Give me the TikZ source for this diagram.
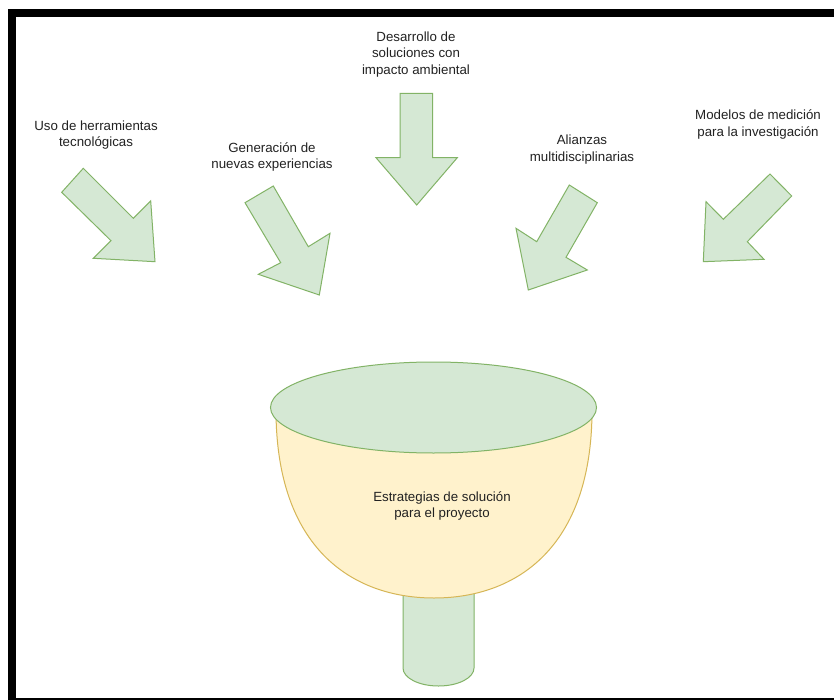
\documentclass[tikz,border=0pt]{standalone}
\usepackage{fontspec}
\setmainfont{Liberation Sans}
\definecolor{gfill}{HTML}{D5E8D4}
\definecolor{gline}{HTML}{82B366}
\definecolor{yfill}{HTML}{FFF2CC}
\definecolor{yline}{HTML}{D6B656}
\definecolor{txt}{HTML}{222222}
\begin{document}
\begin{tikzpicture}[x=1pt,y=-1pt,
  arrowshape/.style={fill=gfill,draw=gline,line width=1pt,line join=miter},
  greenshape/.style={fill=gfill,draw=gline,line width=1pt},
  yellowshape/.style={fill=yfill,draw=yline,line width=1pt},
  lbl/.style={font=\fontsize{13.3}{16.5}\selectfont, text=txt, align=center, inner sep=0pt}]
\useasboundingbox (0,0) rectangle (834,700);
\clip (0,0) rectangle (834,700);
\fill[white] (0,0) rectangle (834,700);
\draw[line width=8pt] (12,13) rectangle (842,701.5);
% arrows
\draw[arrowshape] (83.3,168.3) -- (61.7,192.3) -- (111,240.7) -- (93.3,258.3) -- (155,261.7) -- (150.7,201) -- (133.3,218.3) -- cycle;
\draw[arrowshape] (273.3,186) -- (245,202.7) -- (280.7,262.7) -- (258.3,274.3) -- (319.3,295) -- (330,233.3) -- (308.3,246.7) -- cycle;
\draw[arrowshape] (400,93.3) -- (432.7,93.3) -- (432.7,157.7) -- (457.3,157.7) -- (416.7,205) -- (376,157.7) -- (400,157.7) -- cycle;
\draw[arrowshape] (569.3,185) -- (597.3,202.7) -- (566,257.3) -- (587.3,270) -- (528.3,290) -- (516,228.3) -- (536.7,241.7) -- cycle;
\draw[arrowshape] (770,174) -- (791.7,196) -- (747.3,241.7) -- (764,259.3) -- (703.3,261.7) -- (706,201.7) -- (723.3,219.3) -- cycle;
% funnel
\draw[greenshape] (403,560) -- (403,668) arc[start angle=180, end angle=0, x radius=35.5, y radius=18] -- (474,560);
\draw[yellowshape] (276,410) .. controls (276,548) and (352,598) .. (434,598) .. controls (516,598) and (592,548) .. (592,410) -- cycle;
\draw[greenshape] (433.5,407.5) ellipse[x radius=163, y radius=45.5];
% labels
\node[lbl] (t1) at (96,135) {Uso de herramientas\\tecnológicas};
\node[lbl] (t2) at (272,157) {Generación de\\nuevas experiencias};
\node[lbl] (t3) at (416,54.5) {Desarrollo de\\soluciones con\\impacto ambiental};
\node[lbl] (t4) at (582,149.5) {Alianzas\\multidisciplinarias};
\node[lbl] (t5) at (758,124.5) {Modelos de medición\\para la investigación};
\node[lbl] (t6) at (442,506) {Estrategias de solución\\para el proyecto};
\end{tikzpicture}
\end{document}
